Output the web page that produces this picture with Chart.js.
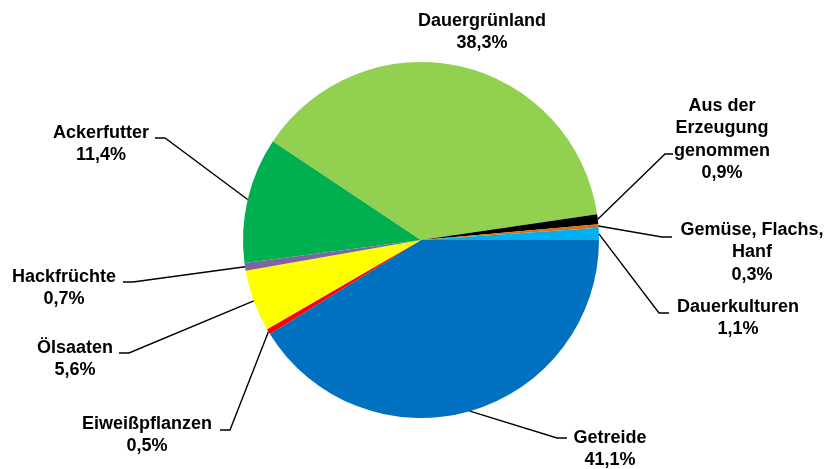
<!DOCTYPE html>
<html>
<head>
<meta charset="utf-8">
<script src="https://cdn.jsdelivr.net/npm/chart.js@4"></script>
<style>
  html, body { margin: 0; padding: 0; background: #ffffff; }
  #wrap { width: 829px; height: 469px; position: relative; }
</style>
</head>
<body>
<div id="wrap"><canvas id="c" width="829" height="469"></canvas></div>
<script>
// ---- data ----
const categories = ["Getreide", "Eiweißpflanzen", "Ölsaaten", "Hackfrüchte", "Ackerfutter", "Dauergrünland", "Aus der Erzeugung genommen", "Gemüse, Flachs, Hanf", "Dauerkulturen"];
const labelLines = [["Getreide"], ["Eiweißpflanzen"], ["Ölsaaten"], ["Hackfrüchte"], ["Ackerfutter"], ["Dauergrünland"], ["Aus der", "Erzeugung", "genommen"], ["Gemüse, Flachs,", "Hanf"], ["Dauerkulturen"]];
const shares = [41.1, 0.5, 5.6, 0.7, 11.4, 38.3, 0.9, 0.3, 1.1];
const percentLabels = ["41,1%", "0,5%", "5,6%", "0,7%", "11,4%", "38,3%", "0,9%", "0,3%", "1,1%"];
const colors = ["#0070C0", "#FF0000", "#FFFF00", "#8064A2", "#00B050", "#92D050", "#000000", "#E46C0A", "#00B0F0"];

// ---- label layout (text centre x, first line centre y, leader elbow, horizontal direction) ----
const labelLayout = [
  { tx: 610, ty: 438, ex: 557, ey: 438, dir: 1, len: 10 },
  { tx: 147, ty: 424, ex: 230, ey: 430, dir: -1, len: 10 },
  { tx: 75,  ty: 348, ex: 129, ey: 353, dir: -1, len: 10 },
  { tx: 64,  ty: 277, ex: 133, ey: 282, dir: -1, len: 10 },
  { tx: 101, ty: 133, ex: 165, ey: 138, dir: -1, len: 10 },
  { tx: 482, ty: 21,  ex: null, ey: null, dir: 0, len: 0 },
  { tx: 722, ty: 106, ex: 665, ey: 154, dir: 1, len: 8 },
  { tx: 752, ty: 230, ex: 662, ey: 237, dir: 1, len: 10 },
  { tx: 738, ty: 307, ex: 659, ey: 313, dir: 1, len: 10 }
];

const labelPlugin = {
  id: 'pieLabels',
  afterDatasetsDraw(chart) {
    const ctx = chart.ctx;
    const meta = chart.getDatasetMeta(0);
    ctx.save();
    meta.data.forEach((arc, i) => {
      const L = labelLayout[i];
      const p = arc.getProps(['x', 'y', 'startAngle', 'endAngle', 'outerRadius'], true);
      const mid = (p.startAngle + p.endAngle) / 2;
      const sx = p.x + Math.cos(mid) * p.outerRadius;
      const sy = p.y + Math.sin(mid) * p.outerRadius;
      if (L.ex !== null) {
        ctx.beginPath();
        ctx.strokeStyle = '#000000';
        ctx.lineWidth = 1.4;
        ctx.moveTo(sx, sy);
        ctx.lineTo(L.ex, L.ey);
        ctx.lineTo(L.ex + L.dir * L.len, L.ey);
        ctx.stroke();
      }
      ctx.fillStyle = '#000000';
      ctx.font = 'bold 18px "Liberation Sans", Arial, sans-serif';
      ctx.textAlign = 'center';
      ctx.textBaseline = 'middle';
      const lines = labelLines[i].concat([percentLabels[i]]);
      lines.forEach((t, k) => {
        ctx.fillText(t, L.tx, L.ty + k * 22.5);
      });
    });
    ctx.restore();
  }
};

new Chart(document.getElementById('c'), {
  type: 'pie',
  data: {
    labels: categories,
    datasets: [{
      data: shares,
      backgroundColor: colors,
      borderWidth: 0
    }]
  },
  options: {
    responsive: false,
    animation: false,
    rotation: 90,
    layout: { padding: { left: 243, right: 230, top: 62, bottom: 51 } },
    plugins: { legend: { display: false }, tooltip: { enabled: false } }
  },
  plugins: [labelPlugin]
});
</script>
</body>
</html>
